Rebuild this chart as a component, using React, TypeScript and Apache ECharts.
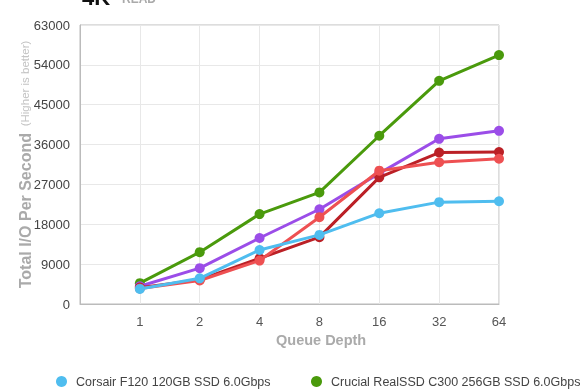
import React, { useEffect, useRef } from "react";
import * as echarts from "echarts";

const categories = ["", "1", "2", "4", "8", "16", "32", "64"];
const yTicks = { min: 0, max: 63000, interval: 9000 };

const corsairName = "Corsair F120 120GB SSD 6.0Gbps";
const crucialName = "Crucial RealSSD C300 256GB SSD 6.0Gbps";
const purpleName = "SSD Series 3";
const darkRedName = "SSD Series 4";
const lightRedName = "SSD Series 5";

const corsair = [3400, 5800, 12200, 15600, 20500, 23000, 23200];
const crucial = [4700, 11700, 20300, 25200, 38000, 50400, 56200];
const purple = [4000, 8100, 14900, 21400, 29500, 37300, 39100];
const darkRed = [3700, 5500, 10300, 15100, 28600, 34200, 34300];
const lightRed = [3500, 5300, 9800, 19600, 30100, 32000, 32800];

const font = "'Liberation Sans', Arial, Helvetica, sans-serif";

export default function App() {
  const ref = useRef<HTMLDivElement>(null);
  useEffect(() => {
    if (!ref.current) return;
    const chart = echarts.init(ref.current, undefined, { renderer: "svg" });
    const mk = (name: string, data: number[], color: string, z: number) => ({
      name,
      type: "line",
      data: [null, ...data],
      symbol: "circle",
      symbolSize: 10,
      z,
      lineStyle: { color, width: 3 },
      itemStyle: { color },
      emphasis: { disabled: true },
    });
    const legendCommon = {
      top: 375,
      padding: 0,
      icon: "circle",
      itemWidth: 11,
      itemHeight: 11,
      itemGap: 10,
      textStyle: { color: "#444", fontSize: 12.5, fontFamily: font, padding: [0, 0, 0, 4] },
    };
    chart.setOption({
      animation: false,
      textStyle: { fontFamily: font },
      grid: {
        left: 80,
        right: 81,
        top: 25,
        bottom: 86,
        show: true,
        borderColor: "#bbbbbb",
        borderWidth: 1,
      },
      xAxis: {
        type: "category",
        data: categories,
        boundaryGap: false,
        axisLine: { lineStyle: { color: "#bbbbbb" } },
        axisTick: { show: false },
        axisLabel: { color: "#555", fontSize: 13, margin: 11, fontFamily: font },
        splitLine: { show: true, lineStyle: { color: "#e8e8e8" } },
      },
      yAxis: {
        type: "value",
        min: yTicks.min,
        max: yTicks.max,
        interval: yTicks.interval,
        axisLine: { show: true, lineStyle: { color: "#bbbbbb" } },
        axisTick: { show: false },
        axisLabel: {
          color: "#444",
          fontSize: 13,
          margin: 10,
          fontFamily: font,
          formatter: (v: number) => String(v),
        },
        splitLine: { lineStyle: { color: "#e8e8e8" } },
        name: "{a|Total I/O Per Second}  {b|(Higher is better)}",
        nameLocation: "middle",
        nameGap: 47,
        nameMoveOverlap: false,
        nameTextStyle: {
          rich: {
            a: { fontSize: 16, fontWeight: "bold", color: "#aaaaaa", fontFamily: font },
            b: { fontSize: 11.5, color: "#c4c4c4", fontFamily: font },
          },
        },
      },
      legend: [
        { ...legendCommon, data: [corsairName], left: 56 },
        { ...legendCommon, data: [crucialName], left: 311 },
      ],
      graphic: [
        {
          type: "text",
          left: 276,
          top: 332,
          style: { text: "Queue Depth", fill: "#aaaaaa", font: `bold 14.5px ${font}` },
        },
        {
          type: "text",
          x: 82,
          y: -14,
          style: { text: "4K", fill: "#111", font: `bold 22px ${font}` },
        },
        {
          type: "text",
          x: 122,
          y: -7,
          style: { text: "READ", fill: "#aaaaaa", font: `bold 12px ${font}` },
        },
      ],
      series: [
        mk(crucialName, crucial, "#4a9a0c", 2),
        mk(purpleName, purple, "#9b4de8", 3),
        mk(darkRedName, darkRed, "#bb2026", 4),
        mk(lightRedName, lightRed, "#ee5052", 5),
        mk(corsairName, corsair, "#4fbdef", 6),
      ],
    });
    return () => chart.dispose();
  }, []);
  return (
    <div
      ref={ref}
      style={{ position: "fixed", left: 0, top: 0, width: 580, height: 390 }}
    />
  );
}
